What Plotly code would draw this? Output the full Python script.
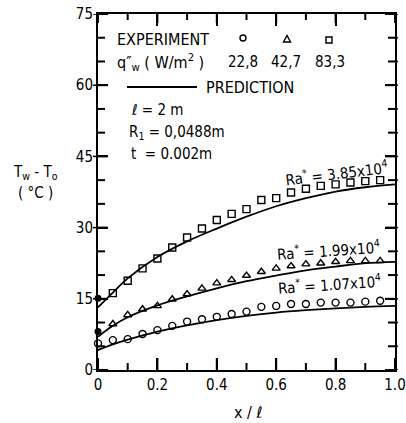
import plotly.graph_objects as go

# ---- data ----
x_exp = [0.05, 0.10, 0.15, 0.20, 0.25, 0.30, 0.35, 0.40, 0.45, 0.50,
         0.55, 0.60, 0.65, 0.70, 0.75, 0.80, 0.85, 0.90, 0.95]
y_sq = [16.2, 18.8, 21.4, 23.5, 25.8, 27.9, 29.8, 31.6, 32.9, 33.9,
        35.8, 36.2, 37.4, 38.2, 38.8, 39.1, 39.5, 39.8, 40.0]
y_tri = [9.7, 11.6, 12.8, 13.5, 14.9, 16.0, 17.2, 18.3, 19.0, 19.9,
         20.7, 21.4, 21.9, 22.3, 22.5, 22.8, 23.0, 23.0, 23.0]
x_circ = [0.0] + x_exp
y_circ = [5.6, 6.3, 6.5, 7.6, 8.4, 9.3, 10.2, 10.7, 11.2, 11.8, 12.3,
          13.3, 13.5, 13.9, 13.9, 14.2, 14.2, 14.2, 14.4, 14.6]
x_filled = [0.0, 0.0]
y_filled = [15.1, 8.1]

x_pred = [0.0, 0.05, 0.1, 0.2, 0.3, 0.4, 0.5, 0.6, 0.7, 0.8, 0.9, 1.0]
pred_hi = [13.2, 16.3, 19.3, 23.8, 27.1, 29.8, 32.3, 34.5, 36.2, 37.6, 38.5, 39.1]
pred_mid = [7.0, 9.3, 11.1, 13.6, 15.5, 17.2, 18.7, 19.9, 21.0, 21.8, 22.5, 22.8]
pred_lo = [4.2, 5.4, 6.4, 8.1, 9.4, 10.5, 11.4, 12.1, 12.6, 13.0, 13.3, 13.5]

x_ticks = [0, 0.2, 0.4, 0.6, 0.8, 1.0]
x_ticklabels = ["0", "0.2", "0.4", "0.6", "0.8", "1.0"]
x_minor = [0.1, 0.3, 0.5, 0.7, 0.9]
y_ticks = [0, 15, 30, 45, 60, 75]
y_minor = [5, 10, 20, 25, 35, 40, 50, 55, 65, 70]

X_RANGE = [0, 1]
Y_RANGE = [0, 75]

FONT = "DejaVu Sans Condensed, Liberation Sans Narrow, DejaVu Sans, sans-serif"
BLACK = "#000000"

W, H = 406, 423
ML, MR, MT, MB = 98, 11, 14, 53
PLOT_W = W - ML - MR
PLOT_H = H - MT - MB
KX = (X_RANGE[1] - X_RANGE[0]) / PLOT_W   # data units per pixel
KY = (Y_RANGE[1] - Y_RANGE[0]) / PLOT_H

fig = go.Figure()

# inward tick marks as a line trace (drawn first, under the data)
tx, ty = [], []
def seg(x0, y0, x1, y1):
    tx.extend([x0, x1, None])
    ty.extend([y0, y1, None])

for v, lb, lt in [(v, 12, 9) for v in x_ticks] + [(v, 7, 6) for v in x_minor]:
    seg(v, Y_RANGE[0], v, Y_RANGE[0] + lb * KY)
    seg(v, Y_RANGE[1], v, Y_RANGE[1] - lt * KY)
for v, ll in [(v, 10) for v in y_ticks] + [(v, 7) for v in y_minor]:
    seg(X_RANGE[0], v, X_RANGE[0] + ll * KX, v)
    seg(X_RANGE[1], v, X_RANGE[1] - ll * KX, v)
fig.add_trace(go.Scatter(x=tx, y=ty, mode="lines", connectgaps=False,
                         line=dict(color=BLACK, width=2),
                         showlegend=False, hoverinfo="skip"))

for yp in (pred_hi, pred_mid, pred_lo):
    fig.add_trace(go.Scatter(x=x_pred, y=yp, mode="lines",
                             line=dict(color=BLACK, width=1.8, shape="spline", smoothing=1.0),
                             showlegend=False, hoverinfo="skip"))
mk = dict(color=BLACK, size=7, line=dict(color=BLACK, width=1.4))
fig.add_trace(go.Scatter(x=x_exp, y=y_sq, mode="markers",
                         marker=dict(symbol="square-open", **mk), showlegend=False))
fig.add_trace(go.Scatter(x=x_exp, y=y_tri, mode="markers",
                         marker=dict(symbol="triangle-up-open", **mk), showlegend=False))
fig.add_trace(go.Scatter(x=x_circ, y=y_circ, mode="markers", cliponaxis=False,
                         marker=dict(symbol="circle-open", **mk), showlegend=False))
fig.add_trace(go.Scatter(x=x_filled, y=y_filled, mode="markers",
                         marker=dict(symbol="circle", color=BLACK, size=7),
                         showlegend=False, cliponaxis=False))

tf = dict(family=FONT, size=15, color=BLACK)
fig.update_layout(
    xaxis=dict(range=X_RANGE, tickmode="array", tickvals=x_ticks, ticktext=x_ticklabels,
               ticks="inside", ticklen=12, tickwidth=2, tickcolor=BLACK,
               mirror="allticks", showline=True, linecolor=BLACK, linewidth=2,
               showgrid=False, zeroline=False, automargin=False, tickfont=tf,
               layer="above traces"),
    yaxis=dict(range=Y_RANGE, tickmode="array", tickvals=y_ticks,
               ticks="inside", ticklen=10, tickwidth=2, tickcolor=BLACK,
               mirror="allticks", showline=True, linecolor=BLACK, linewidth=2,
               showgrid=False, zeroline=False, automargin=False, tickfont=tf,
               layer="above traces"),
)

# short outward stubs of the y ticks (outside the frame)
shapes = []
for v in y_ticks:
    shapes.append(dict(type="line", xref="paper", yref="y", xsizemode="pixel",
                       xanchor=0, x0=-5, x1=0, y0=v, y1=v,
                       line=dict(color=BLACK, width=1.5)))
for v in y_ticks + y_minor:
    shapes.append(dict(type="line", xref="paper", yref="y", xsizemode="pixel",
                       xanchor=1, x0=0, x1=3, y0=v, y1=v,
                       line=dict(color=BLACK, width=1.5)))

def px(x):
    return (x - ML) / PLOT_W

def py(y):
    return (H - MB - y) / PLOT_H

shapes += [
    dict(type="circle", xref="paper", yref="paper", xsizemode="pixel", ysizemode="pixel",
         xanchor=px(243), yanchor=py(38), x0=-3, x1=3, y0=-3, y1=3,
         line=dict(color=BLACK, width=1.4)),
    dict(type="path", xref="paper", yref="paper", xsizemode="pixel", ysizemode="pixel",
         xanchor=px(287), yanchor=py(39), path="M -3.5 -3 L 3.5 -3 L 0 3.5 Z",
         line=dict(color=BLACK, width=1.4)),
    dict(type="rect", xref="paper", yref="paper", xsizemode="pixel", ysizemode="pixel",
         xanchor=px(329), yanchor=py(40), x0=-3, x1=3, y0=-3, y1=3,
         line=dict(color=BLACK, width=1.4)),
    dict(type="line", xref="paper", yref="paper", x0=px(127), x1=px(197),
         y0=py(87), y1=py(87), line=dict(color=BLACK, width=1.8)),
]
fig.update_layout(shapes=shapes)

def ann(text, x, y, xanchor="left", size=15, angle=0):
    fig.add_annotation(text=text, xref="paper", yref="paper", x=px(x), y=py(y),
                       xanchor=xanchor, yanchor="middle", showarrow=False,
                       textangle=angle, font=dict(family=FONT, size=size, color=BLACK))

ann("EXPERIMENT", 115, 39, size=16)
ann("q″<sub>w</sub> ( W/m<sup>2</sup> )", 115, 62, size=16)
ann("22,8", 243, 62, "center")
ann("42,7", 286, 62, "center")
ann("83,3", 330, 62, "center")
ann("PREDICTION", 204, 88, size=16)
ann("ℓ = 2 m", 129, 110)
ann("R<sub>1</sub> = 0,0488m", 127, 132)
ann("t  = 0.002m", 129, 154)
ann("Ra<sup>*</sup> = 3.85x10<sup>4</sup>", 336, 173, "center", size=15, angle=-7)
ann("Ra<sup>*</sup> = 1.99x10<sup>4</sup>", 328, 250, "center", size=15, angle=-4)
ann("Ra<sup>*</sup> = 1.07x10<sup>4</sup>", 329, 284, "center", size=15, angle=-4)
ann("T<sub>w</sub> - T<sub>o</sub>", 35, 172, "center")
ann("( °C )", 35, 193, "center")
ann("x / ℓ", 248, 412, "center", size=16)

fig.update_layout(template="none", width=W, height=H,
                  margin=dict(l=ML, r=MR, t=MT, b=MB, autoexpand=False),
                  plot_bgcolor="rgba(0,0,0,0)", paper_bgcolor="white", showlegend=False)
fig.write_html("out.html")
